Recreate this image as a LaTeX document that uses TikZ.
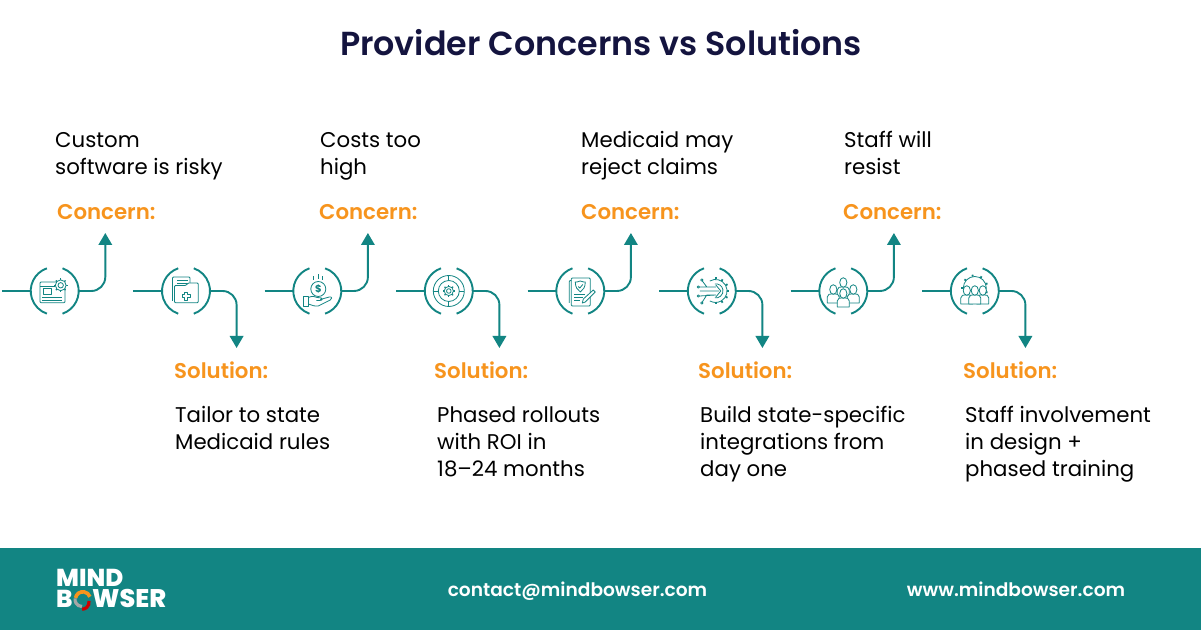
\documentclass[tikz,border=0pt]{standalone}
\usepackage{fontspec}
\setmainfont{Poppins}
\newfontfamily\medf{Poppins Medium}
\newfontfamily\semif{Poppins SemiBold}
\newfontfamily\heavyf{Poppins ExtraBold}
\usetikzlibrary{arrows.meta,calc}
\definecolor{teal}{HTML}{128583}
\definecolor{orng}{HTML}{F7941D}
\definecolor{navy}{HTML}{14143F}
\tikzset{
 x=1pt,y=1pt,
 flow/.style={draw=teal,line width=1.9pt},
 tipped/.style={flow,rounded corners=14pt,-{Triangle[width=13.5pt,length=12pt,fill=teal]}},
 hub/.style={circle,minimum size=48pt,inner sep=0pt,outer sep=0pt},
 ic/.style={draw=teal,line width=.8pt,fill=none,line join=round},
 body/.style={anchor=north west,inner sep=0pt,align=left,text=black,font=\fontsize{21.3}{27}\selectfont},
 headc/.style={anchor=base west,inner sep=0pt,text=orng,font=\fontsize{21.3}{24}\selectfont\semif},
 foot/.style={anchor=base,inner sep=0pt,text=white,font=\fontsize{18.6}{24}\selectfont\semif},
 logo/.style={anchor=base west,inner sep=0pt,text=white,text height=17pt,text depth=0pt,font=\fontsize{24.5}{24}\selectfont\heavyf},
}
\newcommand{\tinygear}[3]{%
 \foreach \a in {0,45,...,315}{\draw[teal,line width=1.3pt] ($(#1,#2)+(\a:#3)$) -- ($(#1,#2)+(\a:#3+1.4)$);}
 \draw[ic,fill=white] (#1,#2) circle[radius=#3];
 \draw[ic] (#1,#2) circle[radius=#3*.5];}
\newcommand{\person}[3]{% x,y,scale
 \begin{scope}[shift={(#1,#2)},scale=#3]
 \draw[ic,fill=white] (-6,-9) -- (-6,-3) .. controls (-6,0) and (-3,0) .. (-2,0) -- (2,0) .. controls (3,0) and (6,0) .. (6,-3) -- (6,-9) -- cycle;
 \draw[ic,fill=white] (0,4.5) ellipse[x radius=3.6,y radius=4.8];
 \end{scope}}
\begin{document}
\begin{tikzpicture}
\useasboundingbox (0,0) rectangle (1201,631);
\fill[white] (0,0) rectangle (1201,631);
\node[anchor=base,inner sep=0pt,text=navy,font=\fontsize{33.3}{40}\selectfont\semif] (title) at (601,575) {Provider Concerns vs Solutions};
% steps
\foreach \i/\cx/\ty in {1/54.7/398,2/186/283,3/317.3/398,4/448.8/283,5/580.3/398,6/711.8/283,7/843.3/398,8/974.8/283}{
 \node[hub] (n\i) at (\cx,340) {};
 \coordinate (s\i) at (\cx-52.7,340);
 \coordinate (t\i) at (\cx+50.6,\ty);
 \draw[flow] (s\i) -- (n\i.west);
 \draw[tipped] (n\i.east) -| (t\i);
 \draw[flow] (n\i.109) arc[start angle=109,end angle=251,radius=24];
 \draw[flow] (n\i.-71) arc[start angle=-71,end angle=71,radius=24];
}
% icon 1
\begin{scope}[shift={(n1)}]
 \draw[ic,rounded corners=1pt] (-14.7,-11.7) rectangle (10.3,9);
 \draw[ic] (-14.7,5) -- (0,5);
 \draw[ic] (-11.5,-3.5) rectangle (-3,2.3);
 \draw[ic] (-12.5,-6.7) -- (7.5,-6.7) (-12.5,-9.3) -- (7.5,-9.3);
 \tinygear{6}{5.7}{5.4}
\end{scope}
% icon 2
\begin{scope}[shift={(n2)}]
 \draw[ic,rounded corners=1pt] (-13.5,-10) -- (-13.5,14) -- (4,14) -- (4,8);
 \draw[ic] (-9,10.5) -- (2,10.5) (-9,7.5) -- (2,7.5);
 \draw[ic,fill=white,rounded corners=1pt] (-11.5,-11.7) -- (-11.5,5.5) -- (0,5.5) -- (2,8) -- (12.3,8) -- (12.3,-11.7) -- cycle;
 \draw[ic] (-1.5,-1) -- (1.5,-1) -- (1.5,-3.5) -- (4,-3.5) -- (4,-6.5) -- (1.5,-6.5) -- (1.5,-9) -- (-1.5,-9) -- (-1.5,-6.5) -- (-4,-6.5) -- (-4,-3.5) -- (-1.5,-3.5) -- cycle;
\end{scope}
% icon 3
\begin{scope}[shift={(n3)}]
 \draw[ic] (1,2) circle[radius=7.5];
 \node[inner sep=0pt,text=teal,font=\fontsize{10}{10}\selectfont\bfseries] (dollar) at (1,2) {\$};
 \draw[ic] (-4,11) -- (-4,15) (1,12) -- (1,17) (5.5,11) -- (5.5,15);
 \draw[ic] (-13.5,-15) rectangle (-9,-5.5);
 \draw[ic] (-9,-6.5) .. controls (-5,-5) and (-3,-5) .. (0,-6.5) -- (4,-7) .. controls (6,-8) and (5,-9.5) .. (2,-9.5) -- (-1,-9.5) (3,-8.5) -- (12,-6) .. controls (15,-5.5) and (15,-8) .. (13,-9) -- (1,-15) .. controls (-3,-15.5) and (-6,-14) .. (-9,-13);
\end{scope}
% icon 4
\begin{scope}[shift={(n4)}]
 \draw[ic] (0,0) circle[radius=15.5] (0,0) circle[radius=10.5];
 \foreach \a in {0,90,180,270}{\draw[ic] (\a:10.5) -- (\a:15.5);}
 \tinygear{0}{0}{4.6}
\end{scope}
% icon 5
\begin{scope}[shift={(n5)}]
 \draw[ic,rounded corners=1pt] (-11,-12) -- (-11,10.5) -- (-9,10.5);
 \draw[ic,rounded corners=1pt] (-9,-15) rectangle (10,13);
 \draw[ic] (0,10) .. controls (2,9) and (4,9) .. (5,9) .. controls (5,4) and (3,1) .. (0,-1) .. controls (-3,1) and (-5,4) .. (-5,9) .. controls (-4,9) and (-2,9) .. (0,10) -- cycle;
 \draw[ic] (-2,4.5) -- (-.5,3) -- (2.5,6.5);
 \draw[ic] (-6,-3) -- (5,-3) (-6,-6) -- (3,-6) (-6,-9) -- (0,-9);
 \draw[ic,fill=white] (2,-12) -- (3,-8) -- (13,1) -- (15,-1) -- (5,-11) -- cycle;
\end{scope}
% icon 6
\begin{scope}[shift={(n6)}]
 \foreach \a in {-90,-60,...,90}{\draw[teal,line width=1.8pt] ($(4,0)+(\a:11.5)$) -- ($(4,0)+(\a:13.5)$);}
 \draw[ic] (-2,10) arc[start angle=120,end angle=-120,radius=11.5];
 \draw[ic] (3,7) arc[start angle=100,end angle=-100,radius=7];
 \draw[ic] (-10,11) circle[radius=1.2] (-13.5,4) circle[radius=1.2] (-13.5,-5) circle[radius=1.2] (-10,-12) circle[radius=1.2];
 \draw[ic] (-9.5,10) -- (-5,4) -- (4,4) (-12,4) -- (4,4) (-12,0) -- (7,0) (-12,-5) -- (4,-4) (-9.5,-11) -- (-5,-4) -- (4,-4);
 \draw[ic] (4,6) -- (9,0) -- (4,-6);
\end{scope}
% icon 7
\begin{scope}[shift={(n7)}]
 \person{0}{4}{1}
 \person{-10}{-3}{1}
 \person{10}{-3}{1}
 \person{0}{-7}{1}
\end{scope}
% icon 8
\begin{scope}[shift={(n8)}]
 \foreach \a in {20,60,...,340}{\draw[teal,line width=1.8pt] ($(0,3)+(\a:11.5)$) -- ($(0,3)+(\a:13.5)$);}
 \draw[ic,fill=white] (0,3) circle[radius=11.5];
 \person{-8}{-4}{1}
 \person{8}{-4}{1}
 \person{0}{-4}{1}
\end{scope}
% concerns
\foreach \i/\x/\t in {a/55/{Custom\\software is risky},b/320/{Costs too\\high},c/581/{Medicaid may\\reject claims},d/844/{Staff will\\resist}}{
 \node[body] (q\i) at (\x,504) {\rule{0pt}{20pt}\t};
}
\foreach \i/\x in {a/57,b/319,c/581,d/843}{\node[headc] (h\i) at (\x,411.5) {Concern:};}
\foreach \i/\x in {a/174,b/434,c/698,d/963}{\node[headc] (k\i) at (\x,252.5) {Solution:};}
\foreach \i/\x/\t in {a/175/{Tailor to state\\Medicaid rules},b/437/{Phased rollouts\\with ROI in\\18–24 months},c/700/{Build state-specific\\integrations from\\day one},d/965/{Staff involvement\\in design +\\phased training}}{
 \node[body] (r\i) at (\x,229) {\rule{0pt}{20pt}\t};
}
% footer
\fill[teal] (0,1) rectangle (1201,83);
\node[foot] (mail) at (577.5,34) {contact@mindbowser.com};
\node[foot] (web) at (1016,34) {www.mindbowser.com};
\node[logo] (l1) at (56,44) {MIND};
\node[logo] (l2) at (56,23) {B};
\node[logo,font=\fontsize{25.5}{24}\selectfont\heavyf] (l3) at (92,23) {WSER};
\draw[orng,line width=3.6pt] (75.5,33) arc[start angle=170,end angle=20,radius=7.5];
\draw[red!80!black,line width=3.2pt] (89,30) arc[start angle=10,end angle=-90,radius=7];
\draw[gray!70,line width=3.2pt] (82,24.5) arc[start angle=-90,end angle=-190,radius=7];
\end{tikzpicture}
\end{document}
